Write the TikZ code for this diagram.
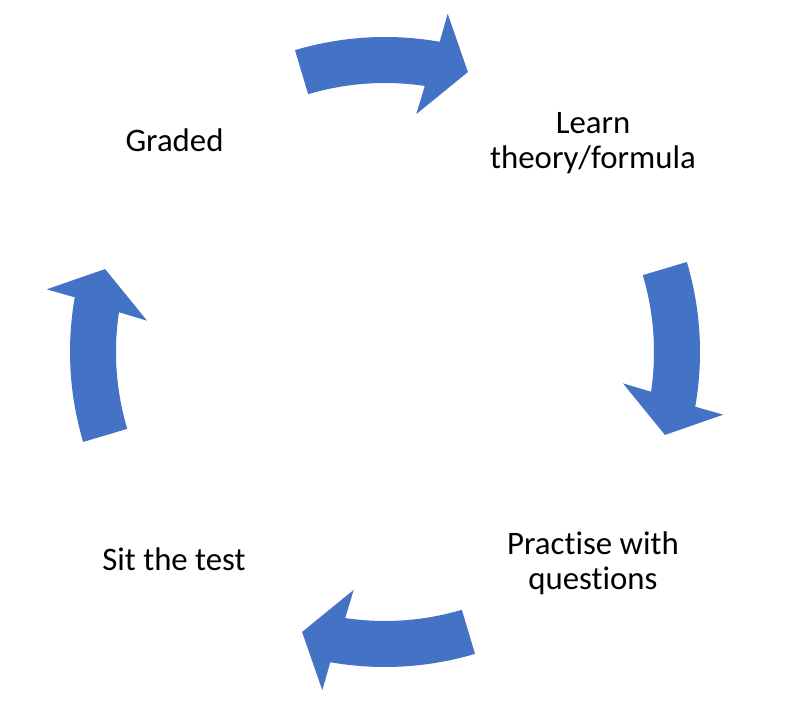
\documentclass[tikz,border=0pt]{standalone}
\usepackage{fontspec}
\setmainfont[RawFeature={-liga;-clig;-calt}]{Carlito}
\usepackage{tikz}
\definecolor{arrowblue}{RGB}{68,114,196}

\begin{document}
\begin{tikzpicture}[x=1pt, y=1pt,
  lbl/.style={align=center, inner sep=0pt, font=\fontsize{32.8}{35}\selectfont}]
\useasboundingbox[fill=white] (0,0) rectangle (797,704);
\coordinate (C) at (385,352);
\node[lbl] (graded) at (174.5,563.5) {Graded};
\node[lbl] (learn) at (593,560.5) {Learn\\theory/formula};
\node[lbl] (practise) at (593,141) {Practise with\\questions};
\node[lbl] (sit) at (174,145) {Sit the test};
\foreach \a in {90,0,-90,180}{
	\fill[arrowblue, shift={(C)}] (\a+16.6:315pt) arc[start angle=\a+16.6, end angle=\a-10, radius=315pt]
		-- (\a-10.5:344pt) -- (\a-16.5:292pt) -- (\a-7.5:240pt) -- (\a-8.5:269pt)
		arc[start angle=\a-8.5, end angle=\a+16.6, radius=269pt] -- cycle;
}
\end{tikzpicture}
\end{document}
